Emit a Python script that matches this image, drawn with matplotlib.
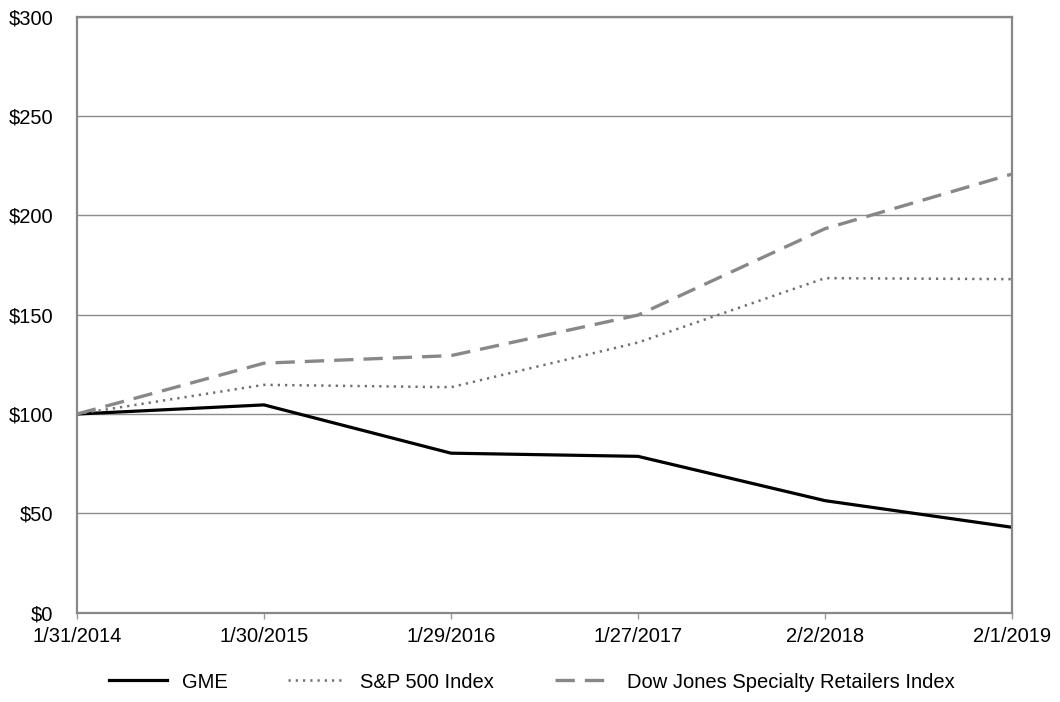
import matplotlib
matplotlib.use("Agg")
import matplotlib.pyplot as plt

dates = ["1/31/2014", "1/30/2015", "1/29/2016", "1/27/2017", "2/2/2018", "2/1/2019"]
gme = [100, 104.6, 80.3, 78.7, 56.4, 43.0]
sp500 = [100, 114.7, 113.5, 136.0, 168.4, 167.9]
djsr = [100, 125.6, 129.4, 149.8, 193.3, 220.8]
yticks = [0, 50, 100, 150, 200, 250, 300]
ylabels = ["$0", "$50", "$100", "$150", "$200", "$250", "$300"]

plt.rcParams['font.family'] = ['Liberation Sans', 'DejaVu Sans']
plt.rcParams['font.size'] = 14.5

fig = plt.figure(figsize=(10.6, 7.02), dpi=100)
W, H = 1060, 702
ax = fig.add_axes([77 / W, (H - 612.7) / H, 935 / W, 596 / H])

x = list(range(len(dates)))
ax.plot(x, gme, color='black', lw=2.3, label='GME', solid_joinstyle='round')
ax.plot(x, sp500, color='#707070', lw=1.8, linestyle=(0, (0.9, 2.0)), label='S&P 500 Index')
ax.plot(x, djsr, color='#888888', lw=2.4, linestyle=(0, (5.8, 3.0)), label='Dow Jones Specialty Retailers Index')

ax.set_xlim(0, len(dates) - 1)
ax.set_ylim(0, 300)
ax.set_xticks(x)
ax.set_xticklabels(dates)
ax.set_yticks(yticks)
ax.set_yticklabels(ylabels)

ax.grid(axis='y', color='#8c8c8c', lw=1.0)
ax.set_axisbelow(True)
for s in ax.spines.values():
    s.set_color('#888888')
    s.set_linewidth(1.6)

ax.tick_params(axis='y', length=0, pad=17)
ax.tick_params(axis='x', length=4, width=1.0, color='#999999', pad=6)

fig.legend(loc='center', bbox_to_anchor=(532 / W, 1 - 682 / H), ncol=3, frameon=False,
           handlelength=2.85, handletextpad=0.75, columnspacing=3.0, fontsize=14.5)

fig.savefig('out.png', dpi=100)
